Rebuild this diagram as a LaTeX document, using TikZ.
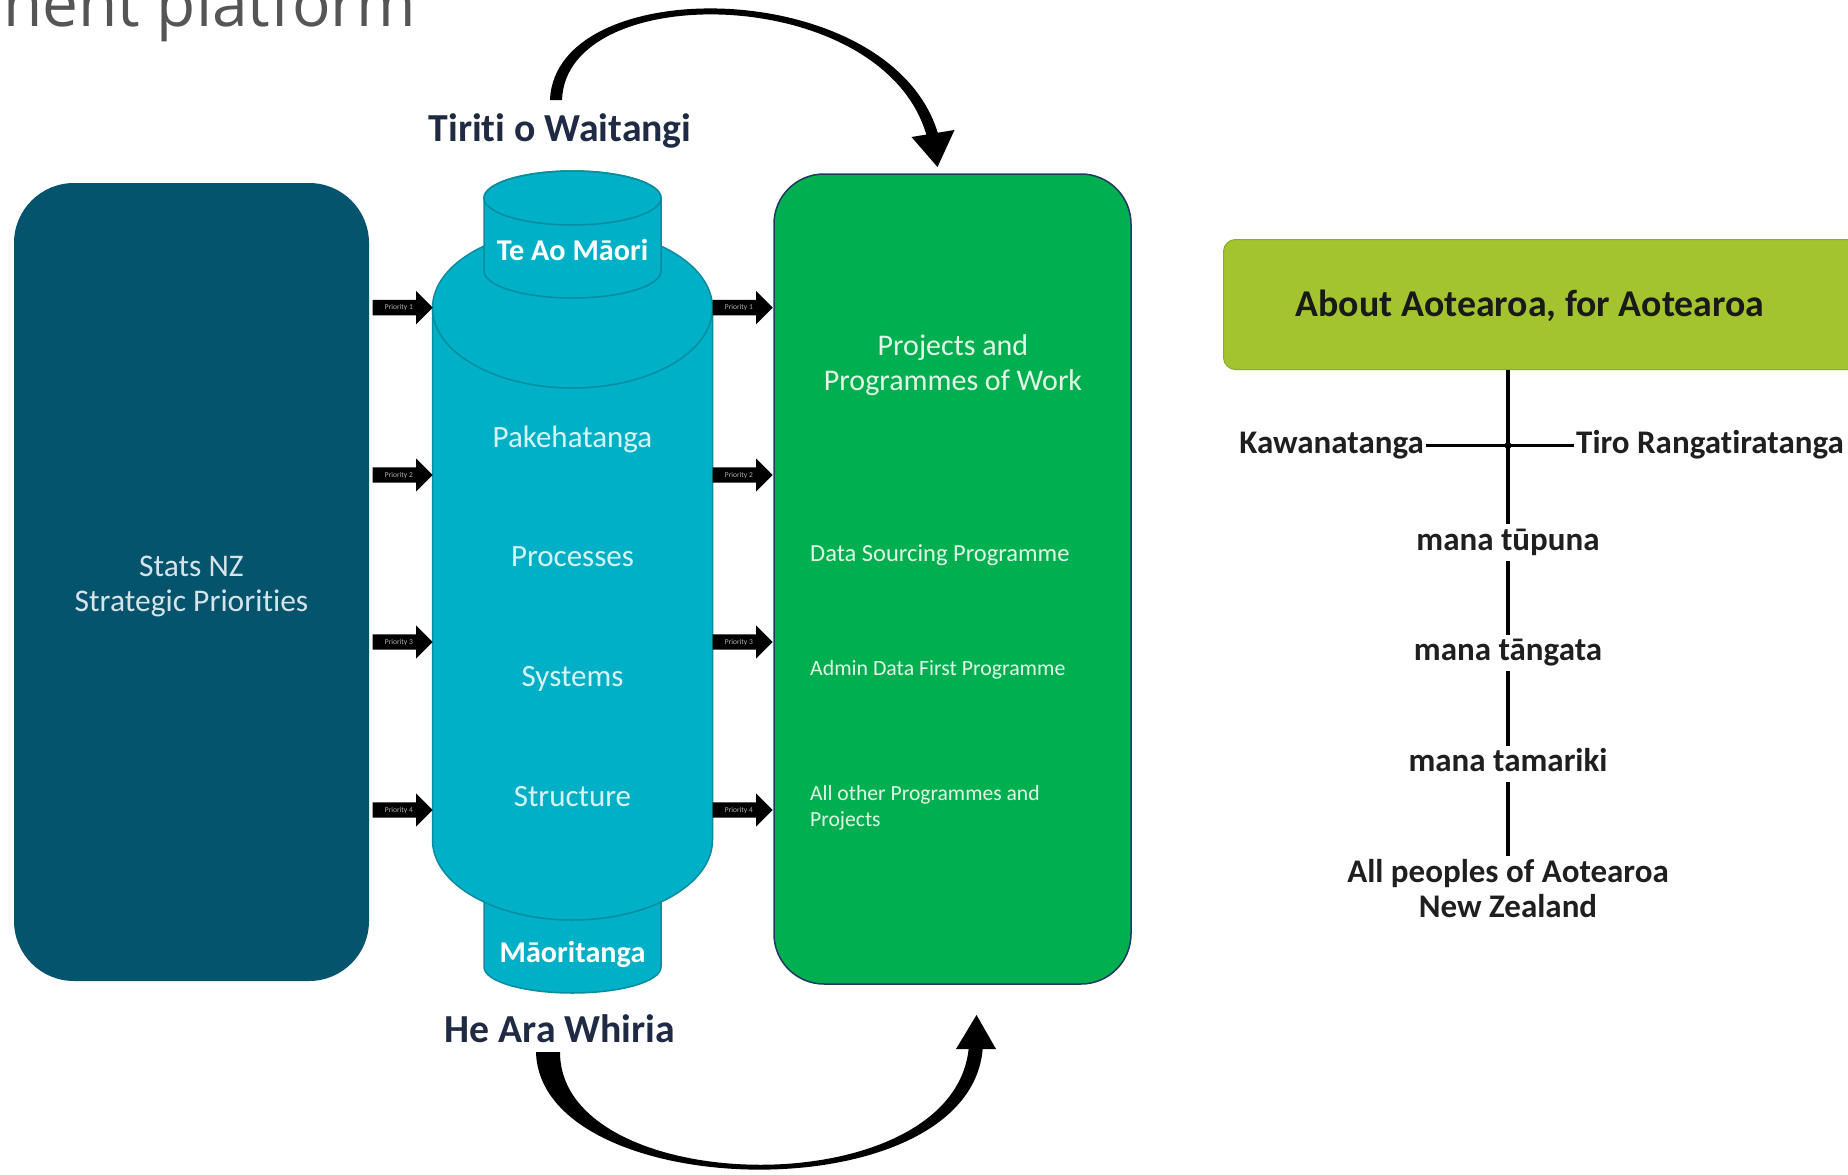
\documentclass[tikz,border=0pt]{standalone}
\usepackage{fontspec}
\setmainfont{Carlito}[Ligatures={NoCommon}]
\newfontfamily\titlefont{Open Sans}
\usetikzlibrary{shapes.arrows}
\definecolor{darkteal}{RGB}{4,84,110}
\definecolor{cylfill}{RGB}{0,176,198}
\definecolor{cyledge}{RGB}{8,140,160}
\definecolor{boxgreen}{RGB}{0,176,80}
\definecolor{greenedge}{RGB}{31,56,100}
\definecolor{limefill}{RGB}{163,196,46}
\definecolor{limeedge}{RGB}{140,170,40}
\definecolor{navytext}{RGB}{31,42,68}
\definecolor{titlegray}{RGB}{85,85,85}
\definecolor{cyltxt}{RGB}{214,243,247}
\definecolor{stattxt}{RGB}{214,228,234}
\definecolor{greentxt}{RGB}{226,246,232}
\begin{document}
\begin{tikzpicture}[x=1pt,y=-1pt,
  cyl/.style={fill=cylfill, draw=cyledge, line width=1.5pt},
  cyltext/.style={text=cyltxt, font=\fontsize{31pt}{35pt}\selectfont},
  cylbold/.style={text=white, font=\bfseries\fontsize{30.2pt}{33pt}\selectfont},
  parrow/.style={single arrow, fill=black, draw=none, minimum height=60pt,
    single arrow head extend=9pt, single arrow head indent=0pt,
    inner xsep=2pt, inner ysep=4pt, text height=5.5pt, text depth=1.5pt,
    text=black!30, font=\fontsize{7.5pt}{8pt}\selectfont, anchor=tip},
  bigcap/.style={text=navytext, font=\bfseries\fontsize{39.7pt}{44pt}\selectfont},
  labbase/.style={text=black!88, font=\bfseries\fontsize{33pt}{35pt}\selectfont, inner xsep=2pt, inner ysep=3.5pt},
  lab/.style={labbase, text height=22pt, text depth=7pt},
  conn/.style={line width=3.2pt, black},
  gtxt/.style={text=greentxt, anchor=west, inner xsep=0pt, align=left}
]
\useasboundingbox (0,0) rectangle (1848,1175);
\clip (0,0) rectangle (1848,1175);
\fill[white] (0,0) rectangle (1848,1175);

% title fragment (cut at the top edge, as in the reference)
\node[anchor=base west, inner sep=0pt, font=\titlefont\fontsize{64pt}{70pt}\selectfont, text=titlegray] (title) at (3,27) {nent platform};

% left box
\node[fill=darkteal, rounded corners=60pt, minimum width=355pt, minimum height=798pt, inner sep=0pt] (stats) at (191.5,582) {};
\node[align=center, text=stattxt, font=\fontsize{31.5pt}{35pt}\selectfont] (statstext) at (191.5,586) {Stats NZ\\Strategic Priorities};

% green box
\node[fill=boxgreen, draw=greenedge, line width=1.5pt, rounded corners=50pt, minimum width=357pt, minimum height=810pt, inner sep=0pt] (work) at (952.5,579) {};
\node[align=center, text=greentxt, font=\fontsize{30pt}{35.5pt}\selectfont] (proj) at (953,365) {Projects and\\Programmes of Work};
\node[gtxt, font=\fontsize{24.5pt}{28pt}\selectfont] (dsp) at (810,555) {Data Sourcing Programme};
\node[gtxt, font=\fontsize{21.8pt}{26pt}\selectfont] (adf) at (810,670) {Admin Data First Programme};
\node[gtxt, font=\fontsize{21.6pt}{26pt}\selectfont] (aop) at (810,807.5) {All other Programmes and\\Projects};

% cylinder: lower cap
\path[cyl] (484,860) -- (484,967) arc[start angle=180, end angle=0, x radius=88.5, y radius=26] -- (661,860) -- cycle;
% main body
\path[cyl] (432.5,308) arc[start angle=180, end angle=360, x radius=140, y radius=80] -- (712.5,840) arc[start angle=0, end angle=180, x radius=140, y radius=80] -- cycle;
\draw[cyledge, line width=1.5pt] (432.5,308) arc[start angle=180, end angle=0, x radius=140, y radius=80];
% upper cap
\path[cyl] (484,198) -- (484,271) arc[start angle=180, end angle=0, x radius=88.5, y radius=27] -- (661,198) arc[start angle=0, end angle=-180, x radius=88.5, y radius=27] -- cycle;
\draw[cyledge, line width=1.5pt] (572.5,198) ellipse[x radius=88.5, y radius=27];

\node[cylbold] (teao) at (572.5,250.5) {Te Ao Māori};
\node[cylbold] (maori) at (572.5,954.5) {Māoritanga};
\node[cyltext] (pake) at (572.5,439.5) {Pakehatanga};
\node[cyltext] (proc) at (572.5,557) {Processes};
\node[cyltext] (sys) at (572.5,678.5) {Systems};
\node[cyltext] (struc) at (572.5,796.5) {Structure};

% priority arrows
\node[parrow] (l1) at (433,307.6) {Priority 1};
\node[parrow] (l2) at (433,475) {Priority 2};
\node[parrow] (l3) at (433,642) {Priority 3};
\node[parrow] (l4) at (433,810) {Priority 4};
\node[parrow] (r1) at (773,307.6) {Priority 1};
\node[parrow] (r2) at (773,475) {Priority 2};
\node[parrow] (r3) at (773,642) {Priority 3};
\node[parrow] (r4) at (773,810) {Priority 4};

% captions
\node[bigcap] (tiriti) at (560,130.5) {Tiriti o Waitangi};
\node[bigcap] (heara) at (560,1029) {He Ara Whiria};

% curved arrows
\fill[black] (550,100) .. controls (555,-30) and (895,-25) .. (939,137) -- (927,137) .. controls (885,-17) and (566,-22) .. (562,100) -- cycle;
\fill[black] (911.5,137) -- (937.5,167) -- (954.5,130) -- cycle;
\fill[black] (536,1052) .. controls (540,1205) and (975,1215) .. (983,1045) -- (969,1045) .. controls (958,1207) and (560,1200) .. (560,1052) -- cycle;
\fill[black] (956,1049) -- (976.5,1015) -- (996,1049) -- cycle;

% right side
\node[fill=limefill, draw=limeedge, line width=1pt, rounded corners=12pt, minimum width=677pt, minimum height=130pt, anchor=north west, inner sep=0pt] (aboutbox) at (1223,239) {};
\node[text=black!90, font=\bfseries\fontsize{37.8pt}{42pt}\selectfont] (about) at (1530,305.5) {About Aotearoa, for Aotearoa};

\node[lab] (tup) at (1508,542.5) {mana tūpuna};
\node[lab] (tan) at (1508,653) {mana tāngata};
\node[lab] (tam) at (1508,764) {mana tamariki};
\node[labbase, align=center, anchor=north] (all) at (1508,856) {All peoples of Aotearoa\\New Zealand};
\node[lab, anchor=east] (kawa) at (1426,445.5) {Kawanatanga};
\node[lab, anchor=west] (tiro) at (1574,445.5) {Tiro Rangatiratanga};

\draw[conn] (aboutbox.south -| tup.north) -- (tup.north);
\draw[line width=2.4pt] (kawa.east) -- (tiro.west);
\fill (kawa.east -| tup.north) circle (3.5pt);
\draw[conn] (tup.south) -- (tan.north);
\draw[conn] (tan.south) -- (tam.north);
\draw[conn] (tam.south) -- (all.north);
\end{tikzpicture}
\end{document}
